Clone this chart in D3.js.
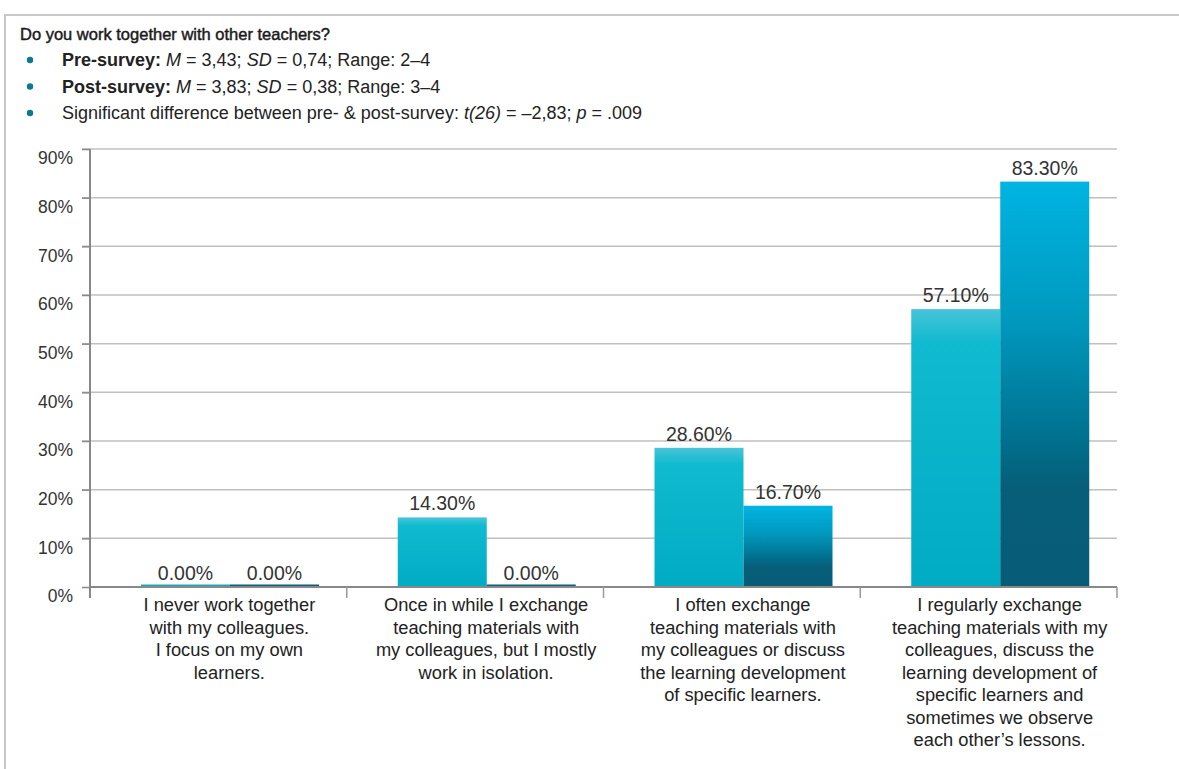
<!DOCTYPE html>
<html>
<head>
<meta charset="utf-8">
<script src="https://cdn.jsdelivr.net/npm/d3@7"></script>
<style>
  body { margin: 0; background: #fff; }
  svg { font-family: "Liberation Sans", Arial, sans-serif; }
</style>
</head>
<body>
<svg width="1179" height="769"></svg>
<script>
// data
var categories = ['never', 'onceInWhile', 'often', 'regularly'];
var categoryLines = [
    ['I never work together', 'with my colleagues.', 'I focus on my own', 'learners.'],
    ['Once in while I exchange', 'teaching materials with', 'my colleagues, but I mostly', 'work in isolation.'],
    ['I often exchange', 'teaching materials with', 'my colleagues or discuss', 'the learning development', 'of specific learners.'],
    ['I regularly exchange', 'teaching materials with my', 'colleagues, discuss the', 'learning development of', 'specific learners and', 'sometimes we observe', "each other\u2019s lessons."]
];
var preSurvey = [0, 14.3, 28.6, 57.1];
var postSurvey = [0, 0, 16.7, 83.3];
var seriesNames = ['pre', 'post'];
var yTicks = [0, 10, 20, 30, 40, 50, 60, 70, 80, 90];

var titleText = 'Do you work together with other teachers?';
var bulletLines = [
    [{t: 'Pre-survey: ', b: true}, {t: 'M', i: true}, {t: ' = 3,43; '}, {t: 'SD', i: true}, {t: ' = 0,74; Range: 2\u20134'}],
    [{t: 'Post-survey: ', b: true}, {t: 'M', i: true}, {t: ' = 3,83; '}, {t: 'SD', i: true}, {t: ' = 0,38; Range: 3\u20134'}],
    [{t: 'Significant difference between pre- & post-survey: '}, {t: 't(26)', i: true}, {t: ' = \u20132,83; '}, {t: 'p', i: true}, {t: ' = .009'}]
];

document.addEventListener('DOMContentLoaded', function () {
    const svg = d3.select('svg');
    const margin = { top: 149, left: 90, right: 62, bottom: 182 };
    const width = 1179, height = 769;
    const innerWidth = width - margin.left - margin.right;
    const innerHeight = height - margin.top - margin.bottom;

    // frame
    svg.append('path')
        .attr('d', 'M5,769 V15 H1179')
        .attr('fill', 'none')
        .attr('stroke', '#c8c8c8')
        .attr('stroke-width', 2);

    // header text
    svg.append('text')
        .attr('x', 20).attr('y', 40)
        .attr('font-size', 16.5)
        .attr('fill', '#1a1a1a')
        .attr('stroke', '#1a1a1a').attr('stroke-width', 0.45)
        .text(titleText);

    bulletLines.forEach(function (parts, i) {
        const yy = 66 + i * 26.5;
        svg.append('circle')
            .attr('cx', 30).attr('cy', yy - 6).attr('r', 3.2)
            .attr('fill', '#0b7a90');
        const t = svg.append('text')
            .attr('x', 62).attr('y', yy)
            .attr('font-size', 18).attr('fill', '#222');
        parts.forEach(function (p) {
            t.append('tspan')
                .attr('font-weight', p.b ? 700 : 400)
                .attr('font-style', p.i ? 'italic' : 'normal')
                .text(p.t);
        });
    });

    // gradients
    const defs = svg.append('defs');
    const gPre = defs.append('linearGradient').attr('id', 'grad-pre')
        .attr('x1', 0).attr('y1', 0).attr('x2', 0).attr('y2', 1);
    gPre.append('stop').attr('offset', '0%').attr('stop-color', '#48c4d8');
    gPre.append('stop').attr('offset', '12%').attr('stop-color', '#10bad0');
    gPre.append('stop').attr('offset', '100%').attr('stop-color', '#00abc4');
    const gPost = defs.append('linearGradient').attr('id', 'grad-post')
        .attr('x1', 0).attr('y1', 0).attr('x2', 0).attr('y2', 1);
    gPost.append('stop').attr('offset', '0%').attr('stop-color', '#00b4e2');
    gPost.append('stop').attr('offset', '35%').attr('stop-color', '#0098bd');
    gPost.append('stop').attr('offset', '65%').attr('stop-color', '#006e8c');
    gPost.append('stop').attr('offset', '75%').attr('stop-color', '#075e79');
    gPost.append('stop').attr('offset', '100%').attr('stop-color', '#075d78');

    const xScale = d3.scaleBand()
        .domain(categories)
        .range([0, innerWidth])
        .padding(0);
    const barOffset = 51;
    const xSub = d3.scaleBand()
        .domain(seriesNames)
        .range([barOffset, barOffset + 178])
        .padding(0);
    const yScale = d3.scaleLinear()
        .domain([0, 90])
        .range([innerHeight, 0]);

    const g = svg.append('g')
        .attr('transform', 'translate(' + margin.left + ',' + margin.top + ')');

    // gridlines
    g.selectAll('line.grid')
        .data(yTicks.filter(d => d > 0))
        .join('line')
        .attr('class', 'grid')
        .attr('x1', -8).attr('x2', innerWidth)
        .attr('y1', d => yScale(d)).attr('y2', d => yScale(d))
        .attr('stroke', '#c0c0c0').attr('stroke-width', 1.5);

    // y axis
    const yAxis = d3.axisLeft(yScale)
        .tickValues(yTicks)
        .tickSize(8)
        .tickFormat(d => d + '%');
    const yAxisG = g.append('g').call(yAxis);
    yAxisG.select('.domain').remove();
    yAxisG.selectAll('.tick line').attr('stroke', '#888').attr('stroke-width', 1.5);
    yAxisG.selectAll('.tick text')
        .attr('x', -17).attr('dy', '0.85em')
        .attr('font-size', 17.5).attr('fill', '#333')
        .attr('font-family', '"Liberation Sans", Arial, sans-serif');
    g.append('line')
        .attr('x1', 0).attr('x2', 0)
        .attr('y1', 0).attr('y2', innerHeight + 11)
        .attr('stroke', '#888').attr('stroke-width', 2);

    // bars
    const rows = categories.map(function (c, i) {
        return { cat: c, values: [
            { key: 'pre', value: preSurvey[i] },
            { key: 'post', value: postSurvey[i] }
        ] };
    });
    const groups = g.selectAll('g.cat')
        .data(rows)
        .join('g')
        .attr('class', 'cat')
        .attr('transform', d => 'translate(' + xScale(d.cat) + ',0)');

    groups.selectAll('rect')
        .data(d => d.values)
        .join('rect')
        .attr('x', d => xSub(d.key))
        .attr('width', xSub.bandwidth())
        .attr('y', d => Math.min(yScale(d.value), innerHeight - 2.5))
        .attr('height', d => Math.max(innerHeight - yScale(d.value), 2.5))
        .attr('fill', d => d.value > 0 ? 'url(#grad-' + d.key + ')' : (d.key === 'pre' ? '#17a9c0' : '#0b5f78'));

    groups.selectAll('text.val')
        .data(d => d.values)
        .join('text')
        .attr('class', 'val')
        .attr('x', d => xSub(d.key) + xSub.bandwidth() / 2)
        .attr('y', d => yScale(d.value) - 7)
        .attr('text-anchor', 'middle')
        .attr('font-size', 19.5).attr('fill', '#333')
        .text(d => d.value.toFixed(2) + '%');

    // x axis line and boundary ticks
    g.append('line')
        .attr('x1', 0).attr('x2', innerWidth)
        .attr('y1', innerHeight).attr('y2', innerHeight)
        .attr('stroke', '#888').attr('stroke-width', 2);
    const bounds = categories.map(c => xScale(c) + xScale.bandwidth());
    g.selectAll('line.xtick')
        .data(bounds)
        .join('line')
        .attr('class', 'xtick')
        .attr('x1', d => d).attr('x2', d => d)
        .attr('y1', innerHeight).attr('y2', innerHeight + 11)
        .attr('stroke', '#999').attr('stroke-width', 1.5);

    // category labels
    groups.each(function (d, i) {
        const cx = xScale.bandwidth() / 2 + 11;
        const t = d3.select(this).append('text')
            .attr('x', cx)
            .attr('y', innerHeight + 24)
            .attr('text-anchor', 'middle')
            .attr('font-size', 18.3).attr('fill', '#222');
        categoryLines[i].forEach(function (line, j) {
            t.append('tspan')
                .attr('x', cx)
                .attr('dy', j === 0 ? 0 : 22.5)
                .text(line);
        });
    });
});
</script>
</body>
</html>
